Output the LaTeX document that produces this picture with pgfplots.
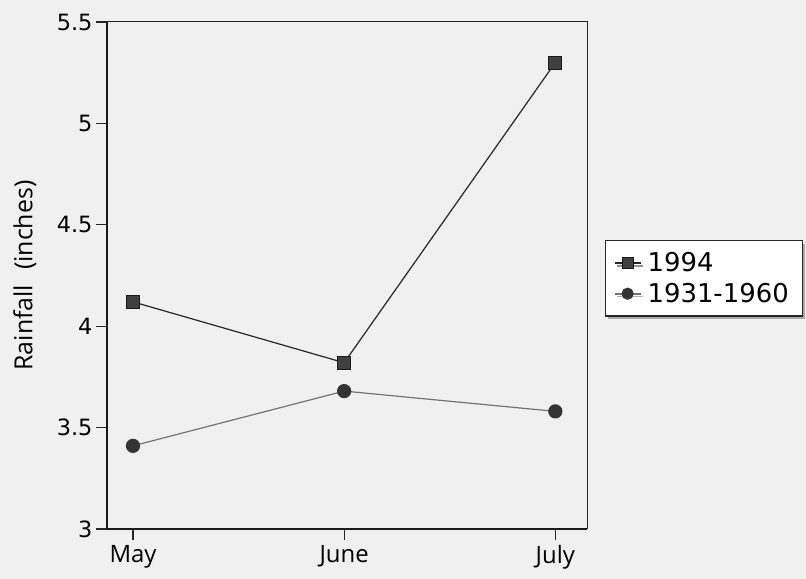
\documentclass[border=0pt]{standalone}
\usepackage{pgfplots}
\pgfplotsset{compat=1.18}
\usepackage{fontspec}
\setmainfont{Open Sans}
\newfontfamily\dejavu{DejaVu Sans}
\usetikzlibrary{shadows}
\begin{document}
\begin{tikzpicture}
\fill[black!6] (-107bp,-50bp) rectangle (699bp,529bp);
\useasboundingbox (-107bp,-50bp) rectangle (699bp,529bp);
\begin{axis}[
  at={(0,0)}, anchor=south west,
  scale only axis, width=480bp, height=507bp,
  xmin=-0.123, xmax=2.15, ymin=3, ymax=5.5,
  axis lines=left,
  axis line style={-, line width=2.2pt, color=black!90},
  xtick={0,1,2}, xticklabels={May,June,July},
  ytick={3,3.5,4,4.5,5,5.5}, yticklabels={3,3.5,4,4.5,5,5.5},
  tick align=outside, major tick length=11bp,
  tick style={line width=1.2pt, color=black!85},
  xticklabel style={yshift=-2bp, font=\fontsize{24}{28}\selectfont},
  yticklabel style={font=\dejavu\fontsize{22.5}{27}\selectfont},
  font=\fontsize{24}{28}\selectfont,
  ylabel={Rainfall\hspace{0.6em}(inches)},
  ylabel style={at={(axis description cs:-0.171,0.5)}, anchor=center, font=\fontsize{25}{29}\selectfont},
  legend style={at={(axis description cs:1.0375,0.570)}, anchor=north west,
    draw=black!85, line width=1.2pt, fill=white,
    drop shadow={shadow xshift=2bp, shadow yshift=-3bp, fill=black!60},
    font=\dejavu\fontsize{26}{30}\selectfont, row sep=10bp, inner xsep=8bp, inner ysep=12bp,
    nodes={inner xsep=6bp, inner ysep=0bp}},
  legend cell align=left,
  legend image code/.code={
    \draw[#1, mark=none, line width=2pt] (0bp,0bp) -- (26bp,0bp);
    \draw[#1] plot[only marks, mark size=5.5bp] coordinates {(13bp,0bp)};},
  clip=false,
]
\draw[line width=1pt, black!85] (rel axis cs:0,1) -- (rel axis cs:1,1) -- (rel axis cs:1,0);
\addplot[black!85, line width=1.2pt, mark=square*, mark size=6.5bp,
  mark options={fill=black!75, draw=black!90, line width=1pt}]
  coordinates {(0,4.12) (1,3.82) (2,5.30)};
\addlegendentry{1994}
\addplot[black!55, line width=1.2pt, mark=*, mark size=6.5bp,
  mark options={fill=black!80, draw=black!80}]
  coordinates {(0,3.41) (1,3.68) (2,3.58)};
\addlegendentry{1931-1960}
\end{axis}
\end{tikzpicture}
\end{document}
